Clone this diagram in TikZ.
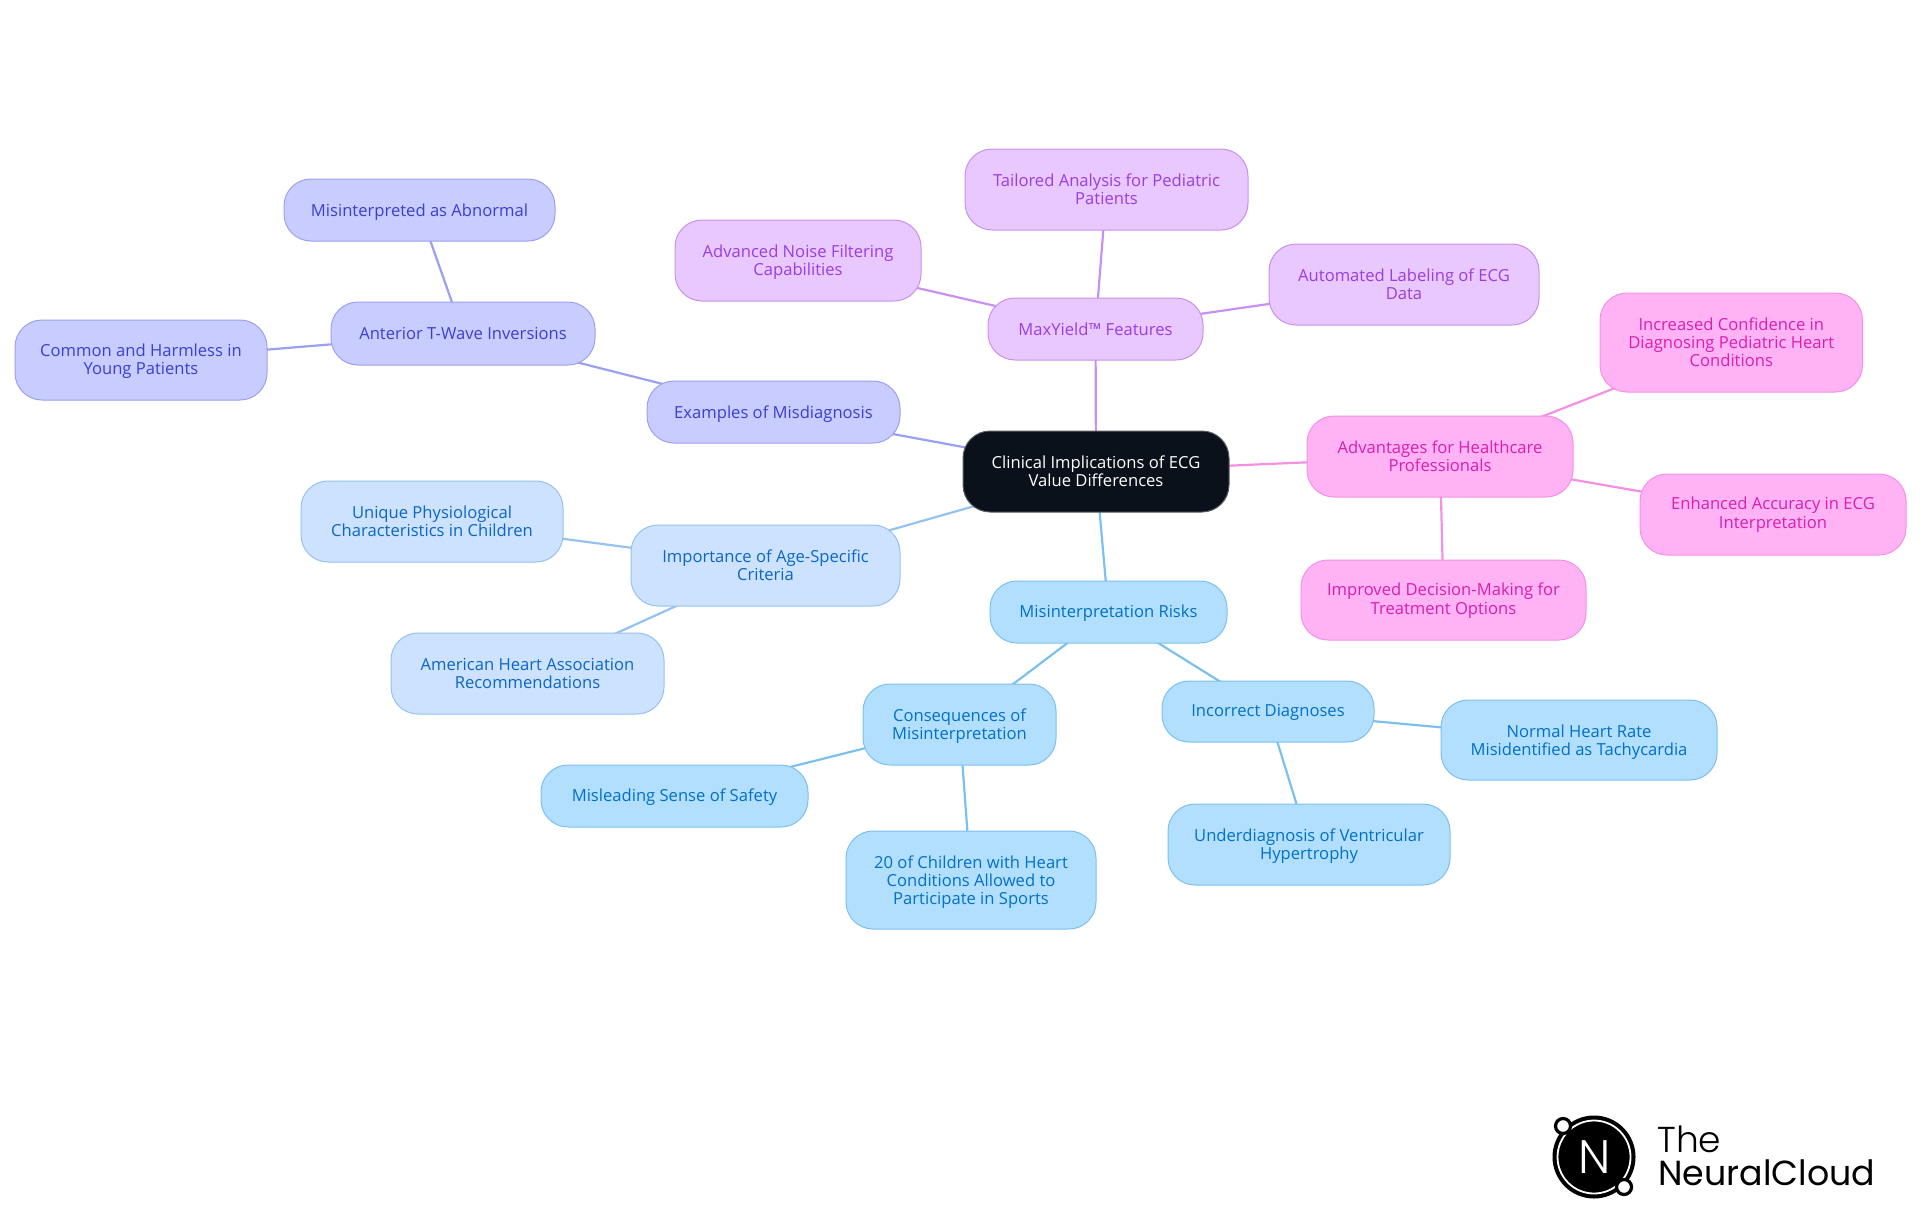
\documentclass[tikz,border=0pt]{standalone}
\usepackage{fontspec}
\setmainfont{Open Sans}
\newfontfamily\logolight{Poppins Light}
\newfontfamily\logoreg{Poppins}
\usetikzlibrary{backgrounds}
\definecolor{rootfill}{HTML}{0B111A}
\definecolor{rootline}{HTML}{5A5F66}
\definecolor{bluefill}{HTML}{B3DFFF}
\definecolor{blueline}{HTML}{7CC0F0}
\definecolor{bluetext}{HTML}{0070C8}
\definecolor{pinkfill}{HTML}{FFB3F5}
\definecolor{pinkline}{HTML}{F490E4}
\definecolor{pinktext}{HTML}{D91EB0}
\definecolor{purpfill}{HTML}{E8C8FF}
\definecolor{purpline}{HTML}{C890F0}
\definecolor{purptext}{HTML}{9B3DE0}
\definecolor{indfill}{HTML}{C9CCFF}
\definecolor{indline}{HTML}{9AA0F5}
\definecolor{indtext}{HTML}{3A3FD4}
\definecolor{skyfill}{HTML}{CCE2FF}
\definecolor{skyline}{HTML}{94C2F2}
\definecolor{skytext}{HTML}{0B66C8}
\tikzset{
  x=0.5pt,y=-0.5pt,
  mm/.style={rounded corners=13.5pt,line width=0.5pt,inner sep=0pt,
    font=\fontsize{8.3}{9.2}\selectfont},
  rootbox/.style={mm,fill=rootfill,draw=rootline,text=white},
  bluebox/.style={mm,fill=bluefill,draw=blueline,text=bluetext},
  pinkbox/.style={mm,fill=pinkfill,draw=pinkline,text=pinktext},
  purpbox/.style={mm,fill=purpfill,draw=purpline,text=purptext},
  indbox/.style={mm,fill=indfill,draw=indline,text=indtext},
  skybox/.style={mm,fill=skyfill,draw=skyline,text=skytext},
  link/.style={line width=1.1pt},
}
% optional argument: how far the text sits below the box centre, in pt
\newcommand{\mmbox}[8][1.2]{%
  \pgfmathsetmacro{\cxx}{(#3+#4)/2}%
  \pgfmathsetmacro{\cyy}{(#5+#6)/2}%
  \pgfmathsetmacro{\wdd}{(#4-#3)/2}%
  \pgfmathsetmacro{\htt}{(#6-#5)/2}%
  \node[#7,minimum width=\wdd pt,minimum height=\htt pt] (#2) at (\cxx,\cyy)
    {\raisebox{0pt}[\dimexpr\height+2\dimexpr#1pt\relax\relax][\depth]{\begin{tabular}{@{}c@{}}#8\end{tabular}}};}
\begin{document}
\begin{tikzpicture}
\useasboundingbox (0,0) rectangle (1920,1215);
\mmbox{root}{963}{1229}{431}{512}{rootbox}{Clinical Implications of ECG\\Value Differences}
\mmbox[0.8]{risks}{990}{1227}{581}{643}{bluebox}{Misinterpretation Risks}
\mmbox[1.3]{conseq}{863}{1056}{684}{765}{bluebox}{Consequences of\\Misinterpretation}
\mmbox[1.0]{safety}{541}{808}{765}{827}{bluebox}{Misleading Sense of Safety}
\mmbox[1.4]{twenty}{846}{1096}{831}{929}{bluebox}{20 of Children with Heart\\Conditions Allowed to\\Participate in Sports}
\mmbox[0.9]{incorrect}{1162}{1374}{681}{742}{bluebox}{Incorrect Diagnoses}
\mmbox[1.4]{normal}{1441}{1717}{700}{780}{bluebox}{Normal Heart Rate\\Misidentified as Tachycardia}
\mmbox[1.3]{under}{1168}{1450}{804}{885}{bluebox}{Underdiagnosis of Ventricular\\Hypertrophy}
\mmbox{adv}{1307}{1573}{416}{497}{pinkbox}{Advantages for Healthcare\\Professionals}
\mmbox{conf}{1600}{1862.5}{293}{392}{pinkbox}{Increased Confidence in\\Diagnosing Pediatric Heart\\Conditions}
\mmbox[0.5]{acc}{1640}{1906}{474}{555}{pinkbox}{Enhanced Accuracy in ECG\\Interpretation}
\mmbox[0.7]{dec}{1301}{1586}{560}{640}{pinkbox}{Improved Decision-Making for\\Treatment Options}
\mmbox{maxy}{988}{1203}{298}{360}{purpbox}{MaxYield™ Features}
\mmbox{auto}{1269}{1539}{244}{325}{purpbox}{Automated Labeling of ECG\\Data}
\mmbox{tail}{965}{1248}{149}{230}{purpbox}{Tailored Analysis for Pediatric\\Patients}
\mmbox[1.1]{noise}{675}{921}{220}{301}{purpbox}{Advanced Noise Filtering\\Capabilities}
\mmbox{exam}{647}{900}{381}{443}{indbox}{Examples of Misdiagnosis}
\mmbox{ante}{331}{595}{302}{365}{indbox}{Anterior T-Wave Inversions}
\mmbox{abn}{284}{555}{179}{241}{indbox}{Misinterpreted as Abnormal}
\mmbox[1.0]{comm}{15}{267}{320}{400}{indbox}{Common and Harmless in\\Young Patients}
\mmbox{imp}{631}{900}{525}{606}{skybox}{Importance of Age-Specific\\Criteria}
\mmbox{uniq}{301}{563}{481}{562}{skybox}{Unique Physiological\\Characteristics in Children}
\mmbox{aha}{391}{664}{633}{714}{skybox}{American Heart Association\\Recommendations}
\begin{pgfonlayer}{background}
\draw[link,blueline] (root.center)--(risks.center) (risks.center)--(conseq.center) (risks.center)--(incorrect.center) (conseq.center)--(safety.center) (conseq.center)--(twenty.center) (incorrect.center)--(normal.center) (incorrect.center)--(under.center);
\draw[link,pinkline] (root.center)--(adv.center) (adv.center)--(conf.center) (adv.center)--(acc.center) (adv.center)--(dec.center);
\draw[link,purpline] (root.center)--(maxy.center) (maxy.center)--(auto.center) (maxy.center)--(tail.center) (maxy.center)--(noise.center);
\draw[link,indline] (root.center)--(exam.center) (exam.center)--(ante.center) (ante.center)--(abn.center) (ante.center)--(comm.center);
\draw[link,skyline] (root.center)--(imp.center) (imp.center)--(uniq.center) (imp.center)--(aha.center);
\end{pgfonlayer}
% logo
\fill[black] (1594,1157) circle[radius=41.5];
\draw[white,line width=0.9pt] (1594,1157) circle[radius=36.5];
\draw[black,fill=white,line width=1.6pt] (1563,1126) circle[radius=7.5];
\draw[black,fill=white,line width=1.6pt] (1624,1187) circle[radius=7.5];
\node[inner sep=0pt,text=white,font=\logolight\fontsize{23.5}{23.5}\selectfont] (logon) at (1595,1157) {N};
\node[inner sep=0pt,anchor=base west,font=\logolight\fontsize{18}{18}\selectfont] (logothe) at (1657,1152) {The};
\node[inner sep=0pt,anchor=base west,font=\logoreg\fontsize{17.4}{18}\selectfont] (logonc) at (1658,1185) {NeuralCloud};
\end{tikzpicture}
\end{document}
